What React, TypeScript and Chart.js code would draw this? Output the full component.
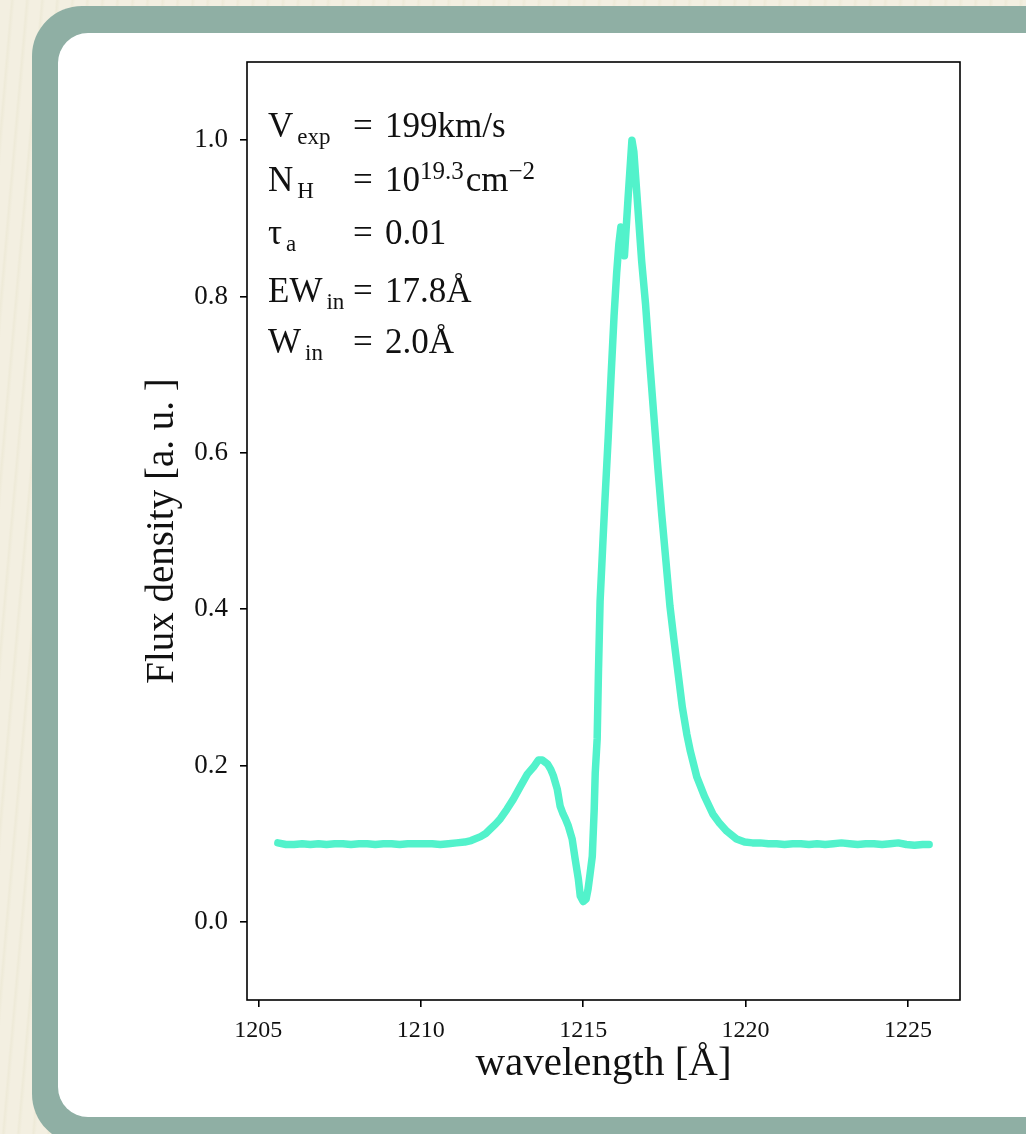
import React, { useEffect, useRef } from 'react';
import { Chart, registerables } from 'chart.js';

Chart.register(...registerables);

// ---- data ----
const wavelength = [
  1205.6, 1205.85, 1206.1, 1206.35, 1206.6, 1206.85, 1207.1, 1207.35, 1207.6, 1207.85,
  1208.1, 1208.35, 1208.6, 1208.85, 1209.1, 1209.35, 1209.6, 1209.85, 1210.1, 1210.35,
  1210.6, 1210.85, 1211.1, 1211.35, 1211.55, 1211.84, 1212.0, 1212.15, 1212.3, 1212.45,
  1212.65, 1212.85, 1213.05, 1213.28, 1213.47, 1213.62, 1213.74, 1213.9, 1214.0, 1214.08,
  1214.2, 1214.29, 1214.38, 1214.45, 1214.54, 1214.66, 1214.75, 1214.85, 1214.91, 1215.0,
  1215.09, 1215.15, 1215.21, 1215.28, 1215.34, 1215.37, 1215.43, 1215.47, 1215.52, 1215.6,
  1215.67, 1215.77, 1215.86, 1215.95, 1216.03, 1216.1, 1216.16, 1216.22, 1216.27, 1216.38,
  1216.5, 1216.56, 1216.68, 1216.8, 1216.92, 1217.05, 1217.17, 1217.3, 1217.42, 1217.55,
  1217.67, 1217.79, 1217.9, 1218.05, 1218.19, 1218.3, 1218.5, 1218.74, 1218.99, 1219.2,
  1219.42, 1219.72, 1219.97, 1220.21, 1220.45, 1220.7, 1220.95, 1221.2, 1221.45, 1221.7,
  1221.95, 1222.2, 1222.45, 1222.7, 1222.95, 1223.2, 1223.45, 1223.7, 1223.95, 1224.2,
  1224.45, 1224.7, 1224.95, 1225.2, 1225.45, 1225.65,
];
const flux = [
  0.101, 0.099, 0.099, 0.1, 0.099, 0.1, 0.099, 0.1, 0.1, 0.099,
  0.1, 0.1, 0.099, 0.1, 0.1, 0.099, 0.1, 0.1, 0.1, 0.1,
  0.099, 0.1, 0.101, 0.102, 0.104, 0.109, 0.113, 0.119, 0.125, 0.132,
  0.144, 0.157, 0.172, 0.189, 0.198, 0.207, 0.207, 0.202, 0.195, 0.187,
  0.17, 0.148, 0.138, 0.132, 0.123, 0.106, 0.081, 0.055, 0.033, 0.026,
  0.029, 0.042, 0.061, 0.084, 0.145, 0.19, 0.234, 0.32, 0.41, 0.48,
  0.54, 0.62, 0.7, 0.775, 0.83, 0.868, 0.889, 0.872, 0.852, 0.925,
  1.0, 0.985, 0.915, 0.845, 0.79, 0.715, 0.65, 0.58, 0.52, 0.46,
  0.404, 0.362, 0.325, 0.275, 0.24, 0.218, 0.185, 0.16, 0.138, 0.126,
  0.116, 0.106, 0.102, 0.101, 0.101, 0.1, 0.1, 0.099, 0.1, 0.1,
  0.099, 0.1, 0.099, 0.1, 0.101, 0.1, 0.099, 0.1, 0.1, 0.099,
  0.1, 0.101, 0.099, 0.098, 0.099, 0.099,
];

const xTicks = [1205, 1210, 1215, 1220, 1225];
const yTicks = [0.0, 0.2, 0.4, 0.6, 0.8, 1.0];
const xLabel = 'wavelength [Å]';
const yLabel = 'Flux density [a. u. ]';

const paramSymbols = ['V', 'N', 'τ', 'EW', 'W'];
const paramSubs = ['exp', 'H', 'a', 'in', 'in'];
const paramValues = [
  [{ t: '199km/s', sup: false }],
  [{ t: '10', sup: false }, { t: '19.3', sup: true }, { t: 'cm', sup: false }, { t: '−2', sup: true }],
  [{ t: '0.01', sup: false }],
  [{ t: '17.8Å', sup: false }],
  [{ t: '2.0Å', sup: false }],
];
const rowBaselines = [75, 129, 182, 240, 291];

const SERIF = '"Liberation Serif", "Times New Roman", serif';
const LINE_COLOR = '#52f2cb';

export default function App() {
  const canvasRef = useRef<HTMLCanvasElement>(null);

  useEffect(() => {
    document.body.style.margin = '0';
    const canvas = canvasRef.current;
    if (!canvas) return;

    const framePlugin = {
      id: 'frameBox',
      afterDraw(chart: any) {
        const { ctx, chartArea } = chart;
        ctx.save();
        ctx.strokeStyle = '#000';
        ctx.lineWidth = 1.6;
        ctx.strokeRect(chartArea.left, chartArea.top, chartArea.right - chartArea.left, chartArea.bottom - chartArea.top);
        ctx.restore();
      },
    };

    const annotPlugin = {
      id: 'paramText',
      afterDraw(chart: any) {
        const { ctx, chartArea } = chart;
        const { left, top } = chartArea;
        ctx.save();
        ctx.fillStyle = '#111';
        ctx.textBaseline = 'alphabetic';
        ctx.textAlign = 'left';
        paramSymbols.forEach((sym, i) => {
          const by = top + rowBaselines[i];
          let x = left + 21;
          ctx.font = `35px ${SERIF}`;
          ctx.fillText(sym, x, by);
          x += ctx.measureText(sym).width + 4;
          ctx.font = `23px ${SERIF}`;
          ctx.fillText(paramSubs[i], x, by + 7);
          ctx.font = `35px ${SERIF}`;
          ctx.fillText('=', left + 106, by);
          let vx = left + 138;
          paramValues[i].forEach((seg) => {
            if (seg.sup) {
              ctx.font = `25px ${SERIF}`;
              ctx.fillText(seg.t, vx, by - 12);
              vx += ctx.measureText(seg.t).width + 2;
            } else {
              ctx.font = `35px ${SERIF}`;
              ctx.fillText(seg.t, vx, by);
              vx += ctx.measureText(seg.t).width;
            }
          });
        });
        ctx.restore();
      },
    };

    const points = wavelength.map((w, i) => ({ x: w, y: flux[i] }));

    const chart = new Chart(canvas, {
      type: 'line',
      data: {
        datasets: [
          {
            data: points,
            borderColor: LINE_COLOR,
            backgroundColor: LINE_COLOR,
            borderWidth: 7.5,
            borderJoinStyle: 'round',
            borderCapStyle: 'round',
            pointRadius: 0,
            tension: 0,
            fill: false,
          },
        ],
      },
      options: {
        responsive: false,
        animation: false,
        events: [],
        layout: { padding: { top: 62, right: 66, left: 0, bottom: 0 } },
        plugins: { legend: { display: false }, tooltip: { enabled: false }, title: { display: false } },
        scales: {
          x: {
            type: 'linear',
            min: 1204.65,
            max: 1226.6,
            afterBuildTicks: (s: any) => { s.ticks = xTicks.map((v) => ({ value: v })); },
            afterFit: (s: any) => { s.height = 134; },
            ticks: {
              font: { family: SERIF, size: 24 },
              color: '#111',
              padding: 9,
              maxRotation: 0,
              autoSkip: false,
              callback: (v: any) => String(v),
            },
            grid: { display: true, drawOnChartArea: false, drawTicks: true, tickLength: 7, color: '#000', lineWidth: 1.6 },
            border: { display: false },
            title: {
              display: true,
              text: xLabel,
              font: { family: SERIF, size: 41 },
              color: '#111',
              padding: { top: 0, bottom: 45 },
            },
          },
          y: {
            type: 'linear',
            min: -0.1,
            max: 1.1,
            afterBuildTicks: (s: any) => { s.ticks = yTicks.map((v) => ({ value: v })); },
            afterFit: (s: any) => { s.width = 247; },
            ticks: {
              font: { family: SERIF, size: 27 },
              color: '#111',
              padding: 12,
              autoSkip: false,
              callback: (v: any) => Number(v).toFixed(1),
            },
            grid: { display: true, drawOnChartArea: false, drawTicks: true, tickLength: 7, color: '#000', lineWidth: 1.6 },
            border: { display: false },
            title: {
              display: true,
              text: yLabel,
              font: { family: SERIF, size: 39 },
              color: '#111',
              padding: { top: 139, bottom: 0 },
            },
          },
        },
      },
      plugins: [framePlugin, annotPlugin],
    } as any);

    return () => { chart.destroy(); };
  }, []);

  return (
    <div
      style={{
        position: 'fixed',
        left: 0,
        top: 0,
        width: 1026,
        height: 1134,
        overflow: 'hidden',
        background: 'repeating-linear-gradient(95deg, #f3efe1 0px, #f3efe1 10px, #eeead8 12px, #f3efe1 15px)',
      }}
    >
      <div
        style={{
          position: 'absolute',
          left: 32,
          top: 6,
          width: 1050,
          height: 1138,
          background: '#8fafa4',
          borderRadius: 50,
        }}
      />
      <div
        style={{
          position: 'absolute',
          left: 58,
          top: 33,
          width: 1000,
          height: 1084,
          background: '#ffffff',
          borderRadius: 30,
        }}
      />
      <canvas ref={canvasRef} width={1026} height={1134} style={{ position: 'absolute', left: 0, top: 0 }} />
    </div>
  );
}
